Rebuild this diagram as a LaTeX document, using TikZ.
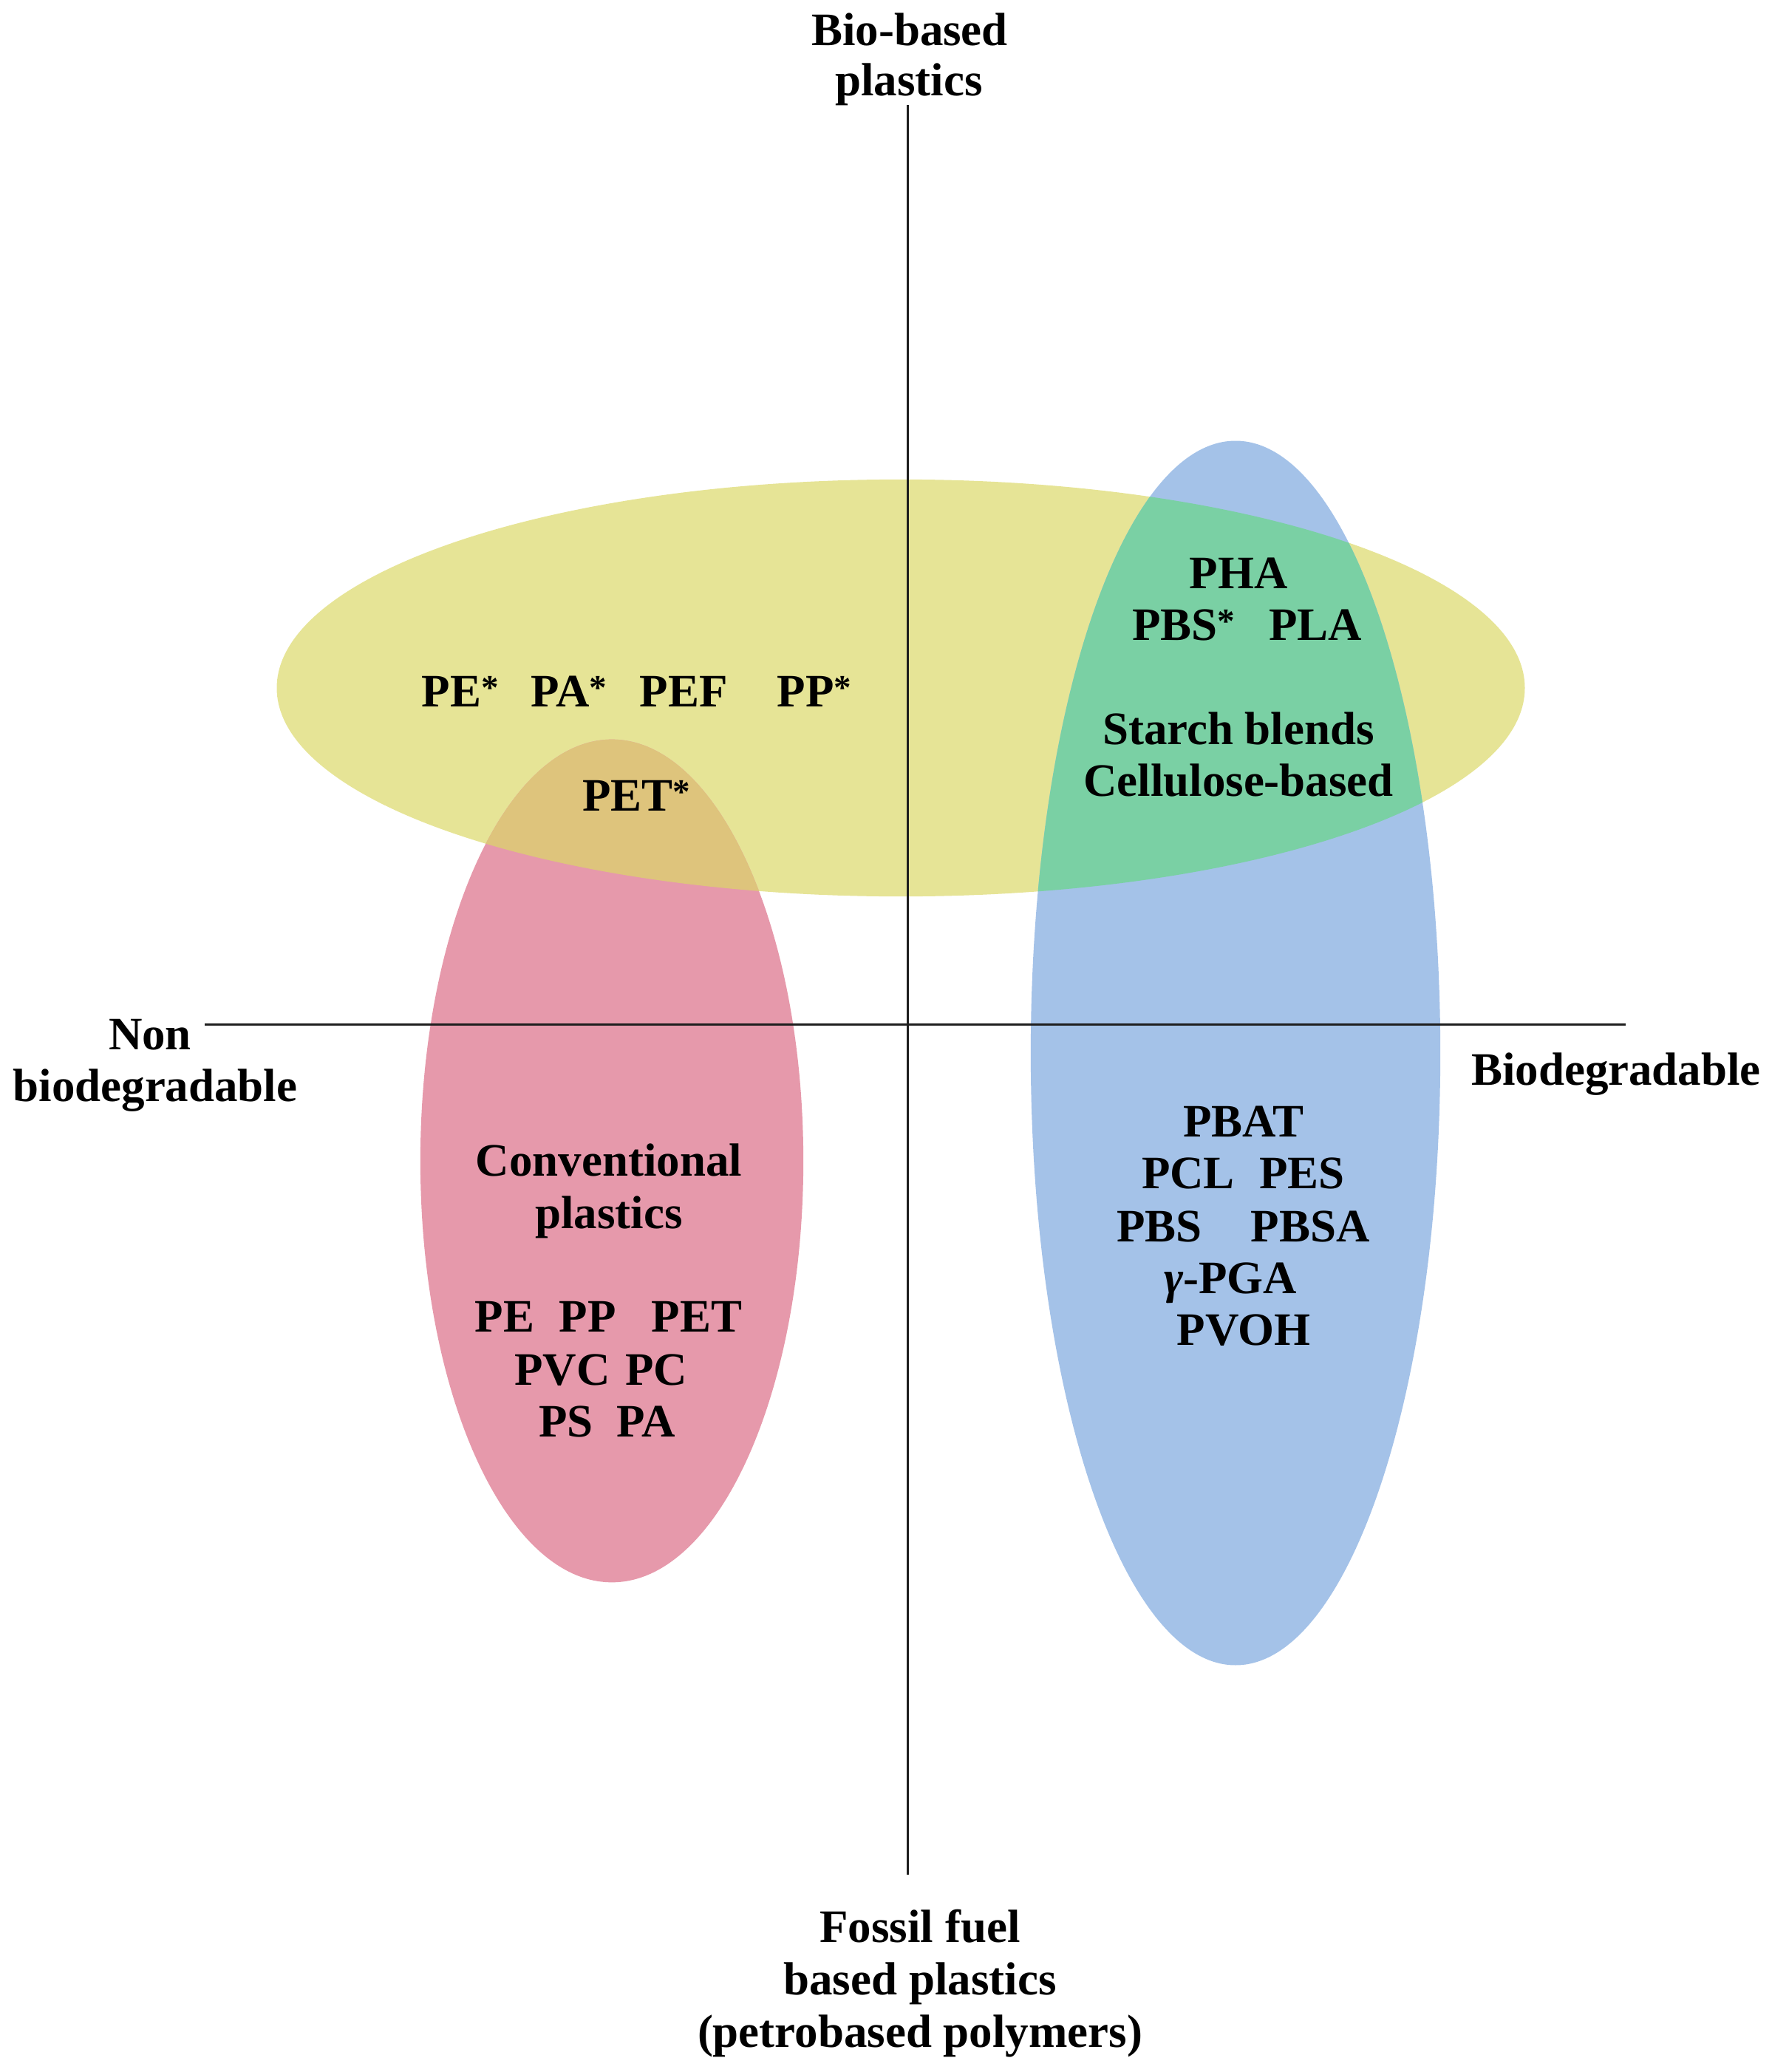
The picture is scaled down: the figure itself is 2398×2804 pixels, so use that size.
\documentclass[tikz,border=0pt]{standalone}
\usepackage{graphicx}
\usepackage{fontspec}
\setmainfont{Liberation Serif}
\definecolor{cyel}{RGB}{230,228,150}
\definecolor{cblue}{RGB}{164,194,232}
\definecolor{cpink}{RGB}{230,153,171}
\definecolor{cgreen}{RGB}{122,208,164}
\definecolor{corange}{RGB}{222,196,124}
\definecolor{caxis}{RGB}{30,30,30}
\newcommand{\myast}{\raisebox{0.15em}{\scalebox{0.75}{*}}}
\begin{document}
\begin{tikzpicture}[x=0.01cm,y=-0.01cm,
  lbl/.style={font=\bfseries\fontsize{17.9pt}{20.2pt}\selectfont, inner sep=0pt, anchor=base, text=black},
  axisline/.style={draw=caxis, line width=0.85pt}]
\useasboundingbox (0,0) rectangle (2398,2804);
% ellipses
\fill[cyel] (1219,931) ellipse [x radius=8.44cm, y radius=2.82cm];
\fill[cblue] (1672,1425) ellipse [x radius=2.77cm, y radius=8.28cm];
\fill[cpink] (828,1571) ellipse [x radius=2.59cm, y radius=5.70cm];
\begin{scope}
  \clip (1672,1425) ellipse [x radius=2.77cm, y radius=8.28cm];
  \fill[cgreen] (1219,931) ellipse [x radius=8.44cm, y radius=2.82cm];
\end{scope}
\begin{scope}
  \clip (828,1571) ellipse [x radius=2.59cm, y radius=5.70cm];
  \fill[corange] (1219,931) ellipse [x radius=8.44cm, y radius=2.82cm];
\end{scope}
% axes
\coordinate (vtop) at (1228,142);
\coordinate (vbot) at (1228,2537);
\coordinate (hleft) at (277,1386);
\coordinate (hright) at (2200,1386);
\draw[axisline] (vtop) -- (vbot);
\draw[axisline] (hleft) -- (hright);
% axis labels
\node[lbl] (bio1) at (1231,62) {Bio-based};
\node[lbl] (bio2) at (1230,130) {plastics};
\node[lbl] (non1) at (203,1420) {Non};
\node[lbl] (non2) at (210,1490) {biodegradable};
\node[lbl] (biod) at (2187,1468) {Biodegradable};
\node[lbl] (fos1) at (1245,2628) {Fossil fuel};
\node[lbl] (fos2) at (1245,2699) {based plastics};
\node[lbl] (fos3) at (1245,2770) {(petrobased polymers)};
% yellow region
\node[lbl] (pe1) at (623,956) {PE\myast};
\node[lbl] (pa1) at (770,956) {PA\myast};
\node[lbl] (pef) at (925,956) {PEF};
\node[lbl] (pp1) at (1102,956) {PP\myast};
\node[lbl] (pet1) at (861,1097) {PET\myast};
% green region
\node[lbl] (pha) at (1676,796) {PHA};
\node[lbl] (pbs1) at (1602,866) {PBS\myast};
\node[lbl] (pla) at (1780,866) {PLA};
\node[lbl] (starch) at (1676,1007) {Starch blends};
\node[lbl] (cell) at (1676,1077) {Cellulose-based};
% pink region
\node[lbl] (conv1) at (824,1591) {Conventional};
\node[lbl] (conv2) at (824,1662) {plastics};
\node[lbl] (pe2) at (683,1802) {PE};
\node[lbl] (pp2) at (795,1802) {PP};
\node[lbl] (pet2) at (943,1802) {PET};
\node[lbl] (pvc) at (761,1874) {PVC};
\node[lbl] (pc) at (888,1874) {PC};
\node[lbl] (ps) at (766,1944) {PS};
\node[lbl] (pa2) at (874,1944) {PA};
% blue region
\node[lbl] (pbat) at (1683,1538) {PBAT};
\node[lbl] (pcl) at (1608,1608) {PCL};
\node[lbl] (pes) at (1762,1608) {PES};
\node[lbl] (pbs2) at (1569,1680) {PBS};
\node[lbl] (pbsa) at (1773,1680) {PBSA};
\node[lbl] (pga) at (1665,1750) {{\itshape γ}-PGA};
\node[lbl] (pvoh) at (1683,1820) {PVOH};
\end{tikzpicture}
\end{document}
